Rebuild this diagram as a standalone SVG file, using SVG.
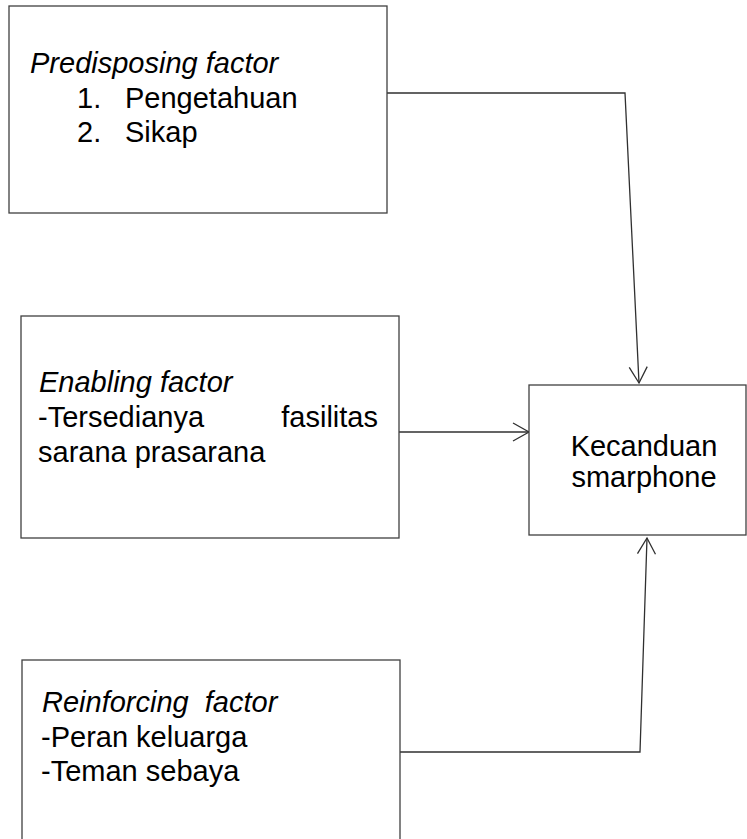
<svg xmlns="http://www.w3.org/2000/svg" width="747" height="839" viewBox="0 0 747 839">
  <style>
    .box { fill: #ffffff; stroke: #404040; stroke-width: 1.3; }
    .conn { fill: none; stroke: #303030; stroke-width: 1.3; }
    text { font-family: "Liberation Sans", Arial, sans-serif; font-size: 29px; fill: #000000; }
    .it { font-style: italic; }
    .mid { text-anchor: middle; }
  </style>
  <defs>
    <marker id="arrow" markerUnits="userSpaceOnUse" markerWidth="20" markerHeight="22" viewBox="-18 -11 20 22" refX="0" refY="0" orient="auto">
      <path d="M -16 -9 L 0 0 L -16 9" fill="none" stroke="#303030" stroke-width="1.3"/>
    </marker>
  </defs>
  <rect width="747" height="839" fill="#ffffff"/>

  <g id="connectors">
    <path class="conn" d="M 387 93 L 625 93 L 639 383" marker-end="url(#arrow)"/>
    <path class="conn" d="M 399 432 L 529 432" marker-end="url(#arrow)"/>
    <path class="conn" d="M 400 752 L 640 752 L 647 538" marker-end="url(#arrow)"/>
  </g>

  <g id="predisposing">
    <rect class="box" x="9" y="6" width="378" height="207"/>
    <text class="it" x="30" y="73">Predisposing factor</text>
    <text x="77" y="108">1.</text>
    <text x="125" y="108">Pengetahuan</text>
    <text x="77" y="142">2.</text>
    <text x="125" y="142">Sikap</text>
  </g>

  <g id="enabling">
    <rect class="box" x="21" y="316" width="378" height="222"/>
    <text class="it" x="39" y="392">Enabling factor</text>
    <text x="38" y="427">-Tersedianya</text>
    <text x="378" y="427" text-anchor="end">fasilitas</text>
    <text x="38" y="462">sarana prasarana</text>
  </g>

  <g id="kecanduan">
    <rect class="box" x="529" y="385" width="217" height="150"/>
    <text class="mid" x="644" y="456">Kecanduan</text>
    <text class="mid" x="644" y="487">smarphone</text>
  </g>

  <g id="reinforcing">
    <rect class="box" x="22" y="660" width="378" height="190"/>
    <text class="it" x="42" y="712" xml:space="preserve">Reinforcing  factor</text>
    <text x="41" y="747">-Peran keluarga</text>
    <text x="41" y="781">-Teman sebaya</text>
  </g>
</svg>
